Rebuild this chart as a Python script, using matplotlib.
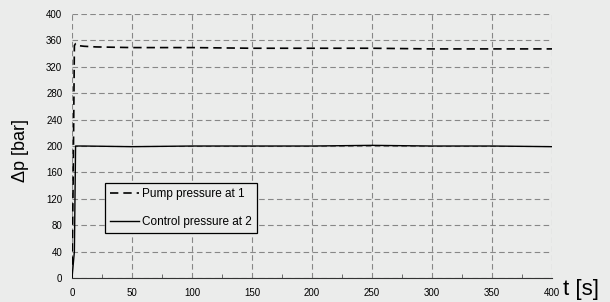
import numpy as np
import matplotlib.pyplot as plt

plt.rcParams['font.family'] = ['Liberation Sans', 'DejaVu Sans']

# Datos
t_pump = [0, 1, 2, 3, 5, 10, 20, 50, 100, 150, 200, 250, 300, 350, 400]
p_pump = [0, 150, 352, 355, 352, 351, 350, 349, 349, 348, 348, 348, 347, 347, 347]

t_ctrl = [0, 2, 3, 10, 50, 100, 150, 200, 250, 300, 350, 400]
p_ctrl = [0, 40, 200, 200, 199, 200, 200, 200, 201, 200, 200, 199]

x_ticks = [0, 50, 100, 150, 200, 250, 300, 350, 400]
y_ticks = [0, 40, 80, 120, 160, 200, 240, 280, 320, 360, 400]

bg = '#ebeceb'
fig = plt.figure(figsize=(6.10, 3.02), dpi=100, facecolor=bg)
ax = fig.add_axes([0.118, 0.079, 0.787, 0.875], facecolor=bg)

ax.plot(t_pump, p_pump, color='black', lw=1.2, ls=(0, (5, 3)), label='Pump pressure at 1')
ax.plot(t_ctrl, p_ctrl, color='black', lw=1.0, label='Control pressure at 2')

ax.set_xlim(0, 400)
ax.set_ylim(0, 400)
ax.set_xticks(x_ticks)
ax.set_yticks(y_ticks)
ax.set_xticks(np.arange(25, 400, 50), minor=True)
ax.tick_params(axis='both', labelsize=7, length=0, pad=7)
ax.tick_params(axis='x', which='minor', direction='in', length=3, color='#555')

ax.grid(True, color='#666666', lw=0.8, ls=(0, (5, 3)), alpha=0.75)

for s in ['top', 'right', 'left']:
    ax.spines[s].set_visible(False)
ax.spines['bottom'].set_color('#333333')
ax.spines['bottom'].set_linewidth(0.8)

fig.text(0.034, 0.50, 'Δp [bar]', fontsize=13, rotation=90, ha='center', va='center')
fig.text(0.953, 0.04, 't [s]', fontsize=16, ha='center', va='center')

leg = ax.legend(loc='upper left', bbox_to_anchor=(0.068, 0.36), fontsize=8.5,
                frameon=True, fancybox=False, borderpad=0.45, labelspacing=1.3,
                handlelength=2.5, handletextpad=0.25, borderaxespad=0)
leg.get_frame().set_edgecolor('black')
leg.get_frame().set_facecolor(bg)
leg.get_frame().set_alpha(1)
leg.get_frame().set_linewidth(0.9)

plt.savefig('out.png', dpi=100, facecolor=bg)
